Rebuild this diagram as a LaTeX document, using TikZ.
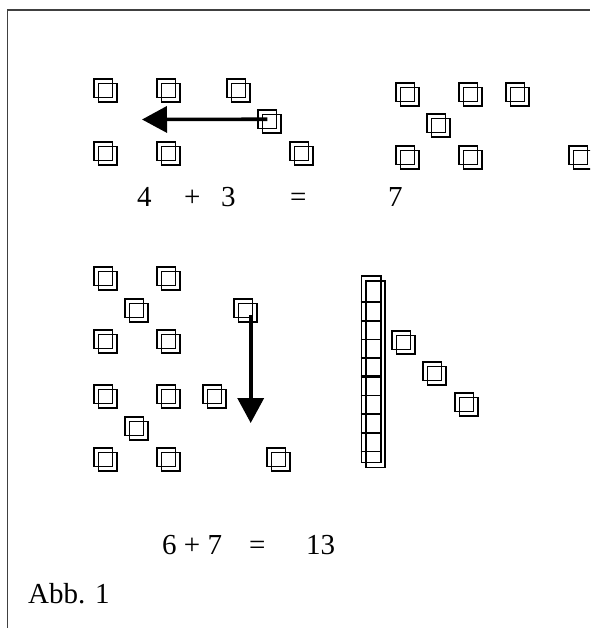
\documentclass[tikz,border=0pt]{standalone}
\usepackage{fontspec}
\setmainfont{Liberation Serif}
\usetikzlibrary{arrows.meta}
\tikzset{
  sqb/.style={draw=black, line width=1.7pt, minimum size=18.5pt, inner sep=0pt, outer sep=0pt, anchor=north west},
  barbox/.style={draw=black, line width=1.7pt, minimum width=19.3pt, minimum height=186.7pt, inner sep=0pt, anchor=north west},
  barline/.style={line width=1.7pt},
  bigarrow/.style={line width=3.6pt, -{Triangle[length=25pt,width=26pt]}},
  eqtxt/.style={font=\fontsize{29}{31}\selectfont, inner sep=0pt, anchor=base west},
  framel/.style={draw=black!75, line width=1.6pt}
}
\newcommand{\dsq}[3]{%
  \node[sqb] (#1) at (#2,#3) {};
  \node[sqb] (#1f) at (#2+4.5,#3+4.5) {};
}
\begin{document}
\begin{tikzpicture}[x=1pt,y=-1pt]
\useasboundingbox (0,0) rectangle (590,628);
\clip (0,0) rectangle (590,628);
% frame
\coordinate (fa) at (7.5,628);
\coordinate (fb) at (7.5,10);
\coordinate (fc) at (590,10);
\draw[framel] (fa) -- (fb) -- (fc);

% top-left group
\dsq{a1}{94}{79}
\dsq{a2}{157}{79}
\dsq{a3}{227}{79}
\dsq{am}{258}{110}
\dsq{b1}{94}{142}
\dsq{b2}{157}{142}
\dsq{b3}{290}{142}
\coordinate (ha) at (142,119.5);
\draw[bigarrow] (am.center) -- (ha);

% top-right group
\dsq{c1}{396}{83}
\dsq{c2}{459}{83}
\dsq{c3}{506}{83}
\dsq{cm}{427}{114}
\dsq{d1}{396}{146}
\dsq{d2}{459}{146}
\dsq{d3}{569}{146}

% equation 1
\node[eqtxt] (e1) at (137,207) {4};
\node[eqtxt] (e2) at (184,207) {+};
\node[eqtxt] (e3) at (221,207) {3};
\node[eqtxt] (e4) at (290,207) {=};
\node[eqtxt] (e5) at (388,207) {7};

% bottom-left group
\dsq{g1}{94}{267}
\dsq{g2}{157}{267}
\dsq{g3}{125}{299}
\dsq{gm}{234}{299}
\dsq{g4}{94}{330}
\dsq{g5}{157}{330}
\dsq{h1}{94}{385}
\dsq{h2}{157}{385}
\dsq{h3}{203}{385}
\dsq{h4}{125}{417}
\dsq{h5}{94}{448}
\dsq{h6}{157}{448}
\dsq{h7}{267}{448}
\coordinate (vs) at (250.7,315);
\coordinate (va) at (250.7,423);
\draw[bigarrow] (vs) -- (va);

% ten bar
\node[barbox] (tb) at (360.7,275) {};
\node[barbox] (tf) at (365,280) {};
\foreach \k in {1,...,9}{
  \draw[barline] (tb.west |- 0,{302+18.7*(\k-1)}) -- (tb.east |- 0,{302+18.7*(\k-1)});
}
\draw[line width=2.8pt] (tb.west |- 0,376.8) -- (tb.east |- 0,376.8);

% bottom-right squares
\dsq{k1}{392}{331}
\dsq{k2}{423}{362}
\dsq{k3}{455}{393}

% equation 2
\node[eqtxt] (f1) at (162,554) {6 + 7};
\node[eqtxt] (f2) at (249,554) {=};
\node[eqtxt] (f3) at (306,554) {13};

\node[eqtxt] (abb) at (28,603) {Abb. 1};
\end{tikzpicture}
\end{document}
